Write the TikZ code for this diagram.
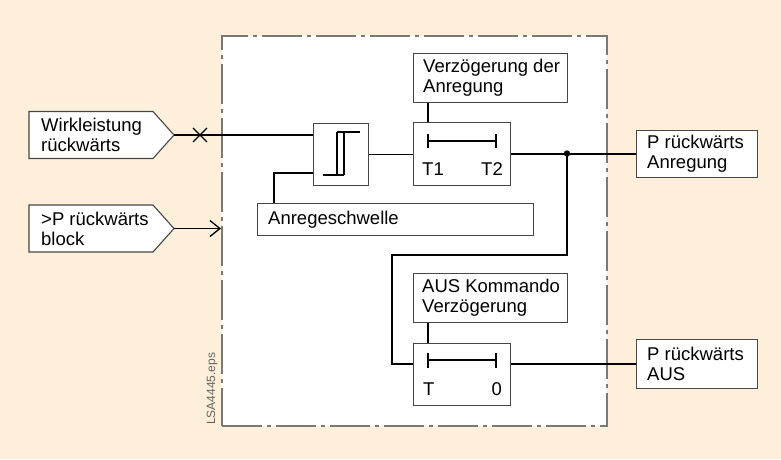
\documentclass[tikz,border=0pt]{standalone}
\usepackage{fontspec}
\setmainfont{Liberation Sans}
\usetikzlibrary{arrows.meta}
\definecolor{bg}{RGB}{253,239,218}
\definecolor{boxline}{RGB}{70,70,70}
\definecolor{framegray}{RGB}{120,120,120}
\definecolor{epsgray}{RGB}{100,100,100}
\newcommand{\lab}{\fontsize{18.5}{20}\selectfont}
\begin{document}
\begin{tikzpicture}[x=1pt,y=-1pt,
  box/.style={draw=boxline, line width=1.1pt, fill=white, anchor=north west, inner sep=0pt},
  wire/.style={line width=1.3pt, draw=black},
  frame/.style={draw=framegray, line width=2pt, fill=white,
                dash pattern=on 40pt off 5pt on 4pt off 5pt, anchor=north west, inner sep=0pt},
  lbl/.style={font=\lab, inner sep=0pt, align=left},
  pent/.style={draw=boxline, line width=1.1pt, fill=white}
]
\useasboundingbox (0,0) rectangle (781,459);
\fill[bg] (0,0) rectangle (781,459);

% dash-dot frame
\node[frame, minimum width=385pt, minimum height=390pt] (frame) at (221,35) {};

% inputs
\draw[pent] (29,111.5) -- (153,111.5) -- (174,135) -- (153,158.5) -- (29,158.5) -- cycle;
\coordinate (in1tip) at (174,135);
\node[lbl, anchor=west] (in1) at (41,135) {Wirkleistung\\rückwärts};
\draw[pent] (29,205) -- (153,205) -- (174,228.5) -- (153,252) -- (29,252) -- cycle;
\coordinate (in2tip) at (174,228.5);
\node[lbl, anchor=west] (in2) at (41,228.5) {>P rückwärts\\block};

% boxes
\node[box, minimum width=154pt, minimum height=49pt] (verz) at (413,53) {};
\node[lbl, anchor=west] (verzt) at ([xshift=10pt]verz.west) {Verzögerung der\\Anregung};
\node[box, minimum width=97pt, minimum height=63pt] (t1) at (413,122) {};
\node[box, minimum width=55pt, minimum height=62pt] (sch) at (313,123) {};
\node[box, minimum width=276pt, minimum height=32pt] (anr) at (257,203) {};
\node[lbl, anchor=west] (anrt) at ([xshift=11pt]anr.west) {Anregeschwelle};
\node[box, minimum width=121pt, minimum height=47pt] (outA) at (636,130) {};
\node[lbl, anchor=west] (outAt) at ([xshift=11pt]outA.west) {P rückwärts\\Anregung};
\node[box, minimum width=154pt, minimum height=49pt] (aus) at (413,273) {};
\node[lbl, anchor=west] (aust) at ([xshift=9pt]aus.west) {AUS Kommando\\Verzögerung};
\node[box, minimum width=97pt, minimum height=62pt] (t2) at (413,343) {};
\node[box, minimum width=121pt, minimum height=49pt] (outB) at (636,339) {};
\node[lbl, anchor=west] (outBt) at ([xshift=11pt]outB.west) {P rückwärts\\AUS};

% hysteresis symbol
\begin{scope}[shift={(sch.north west)}]
  \draw[wire] (24,9) -- (47,9);
  \draw[wire] (24,9) -- (24,52);
  \draw[wire] (31,9) -- (31,52);
  \draw[wire] (10,52) -- (31,52);
\end{scope}

% timer 1 symbol
\begin{scope}[shift={(t1.north west)}]
  \draw[wire] (15,19) -- (83,19);
  \draw[wire] (15,12) -- (15,26);
  \draw[wire] (83,12) -- (83,26);
  \node[lbl, anchor=base west] (t1a) at (9,53) {T1};
  \node[lbl, anchor=base east] (t1b) at (90,53) {T2};
\end{scope}

% timer 2 symbol
\begin{scope}[shift={(t2.north west)}]
  \draw[wire] (15,17) -- (83,17);
  \draw[wire] (15,10) -- (15,25);
  \draw[wire] (83,10) -- (83,25);
  \node[lbl, anchor=base west] (t2a) at (10,52) {T};
  \node[lbl, anchor=base east] (t2b) at (89,52) {0};
\end{scope}

% connectors
\draw[wire] (in1tip) -- (sch.west |- in1tip);
\coordinate (xm) at (200,135);
\draw[wire] (xm) ++(-7,-7) -- ++(14,14) (xm) ++(-7,7) -- ++(14,-14);
\draw[wire, -{Straight Barb[length=10pt,width=16pt]}] (in2tip) -- (frame.west |- in2tip);

\coordinate (anrtap) at (274,203);
\coordinate (schlow) at (313,173);
\draw[wire] (anrtap) |- (schlow);

\draw[wire] (sch.east) -- (t1.west |- sch.east);
\draw[wire] ([xshift=15pt]verz.south west) -- ([xshift=15pt]t1.north west);
\draw[wire] (t1.east) -- (outA.west |- t1.east);

\coordinate (j) at (567,153.5);
\coordinate (bend) at (392,255);
\draw[wire] (j) |- (bend) |- (t2.west |- outB.west);
\fill (j) circle (3.2pt);

\draw[wire] ([xshift=15pt]aus.south west) -- ([xshift=15pt]t2.north west);
\draw[wire] (t2.east |- outB.west) -- (outB.west);

% file label
\node[rotate=90, anchor=base west, font=\fontsize{12}{12}\selectfont, text=epsgray, inner sep=0pt] (eps) at (215,425) {LSA4445.eps};
\end{tikzpicture}
\end{document}
